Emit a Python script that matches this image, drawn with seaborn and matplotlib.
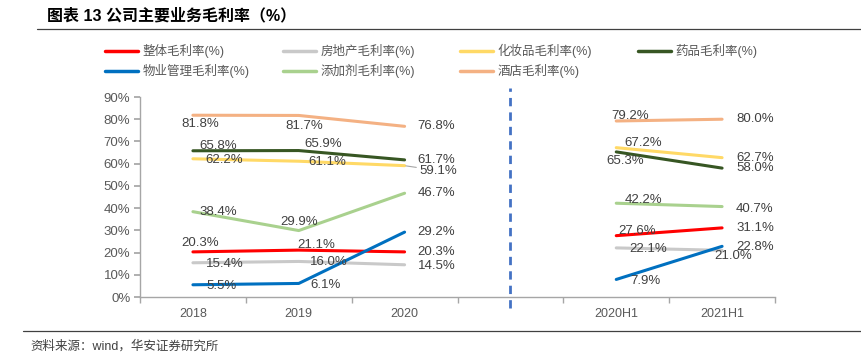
"""
公司主要业务毛利率（%）折线图 — 复刻。
"""
import numpy as np
import pandas as pd
import matplotlib
matplotlib.use('Agg')
import matplotlib.pyplot as plt
import seaborn as sns
from matplotlib.lines import Line2D

# ---- 数据 ----
categories = ['2018', '2019', '2020', '', '2020H1', '2021H1']
annual_idx = [0, 1, 2]
half_idx = [4, 5]

series_names = ['整体毛利率(%)', '房地产毛利率(%)', '化妆品毛利率(%)', '药品毛利率(%)',
                '物业管理毛利率(%)', '添加剂毛利率(%)', '酒店毛利率(%)']
# 2018, 2019, 2020 | 2020H1, 2021H1
overall = [20.3, 21.1, 20.3, 27.6, 31.1]
real_estate = [15.4, 16.0, 14.5, 22.1, 21.0]
cosmetics = [62.2, 61.1, 59.1, 67.2, 62.7]
pharma = [65.8, 65.9, 61.7, 65.3, 58.0]
property_mgmt = [5.5, 6.1, 29.2, 7.9, 22.8]
additive = [38.4, 29.9, 46.7, 42.2, 40.7]
hotel = [81.8, 81.7, 76.8, 79.2, 80.0]
series_values = [overall, real_estate, cosmetics, pharma, property_mgmt, additive, hotel]

colors = ['#FF0000', '#C9C9C9', '#FFD966', '#375623', '#0070C0', '#A9D18E', '#F4B183']

# 标签偏移（像素）：每个点 (dx, dy, ha)
label_offsets = [
    [(7, 9, 'center'), (17, 5, 'center'), (13, 0, 'left'), (21, 5, 'center'), (14, 0, 'left')],
    [(32, -1, 'center'), (30, -1, 'center'), (13, -1, 'left'), (32, -1, 'center'), (11, -6, 'center')],
    [(31, -1, 'center'), (29, -1, 'center'), (15, -5, 'left'), (27, 5, 'center'), (14, 0, 'left')],
    [(25, 5, 'center'), (24, 7, 'center'), (13, 0, 'left'), (9, -9, 'center'), (14, 0, 'left')],
    [(29, -1, 'center'), (27, -2, 'center'), (13, 0, 'left'), (29, -2, 'center'), (14, -1, 'left')],
    [(25, 0, 'center'), (0, 9, 'center'), (13, 0, 'left'), (27, 3, 'center'), (14, -2, 'left')],
    [(7, -9, 'center'), (5, -11, 'center'), (13, 0, 'left'), (14, 5, 'center'), (14, 0, 'left')],
]

sns.set_theme(style='white')
plt.rcParams['font.family'] = ['Liberation Sans', 'Noto Sans CJK SC']
plt.rcParams['axes.unicode_minus'] = False

TEXT = '#404040'
AXIS = '#A6A6A6'

rows = []
xs = annual_idx + half_idx
for name, vals in zip(series_names, series_values):
    for k, (x, v) in enumerate(zip(xs, vals)):
        rows.append({'series': name, 'x': x, 'value': v,
                     'segment': 'annual' if k < 3 else 'half'})
df = pd.DataFrame(rows)

fig = plt.figure(figsize=(8.61, 3.64), dpi=100)
ax = fig.add_axes([140 / 861, 67 / 364, 635 / 861, 200 / 364])

sns.lineplot(data=df, x='x', y='value', hue='series', units='segment',
             estimator=None, palette=dict(zip(series_names, colors)),
             hue_order=series_names, linewidth=2.2, legend=False, ax=ax)

# 数据标签
for name, vals, offs in zip(series_names, series_values, label_offsets):
    for x, v, (dx, dy, ha) in zip(xs, vals, offs):
        kw = {}
        if name == '化妆品毛利率(%)' and x == 2:
            kw['arrowprops'] = dict(arrowstyle='-', color='#A6A6A6', lw=0.8,
                                    shrinkA=0, shrinkB=1)
        ax.annotate(f'{v:.1f}%', xy=(x, v), xytext=(dx, dy), textcoords='offset pixels',
                    ha=ha, va='center', fontsize=9.5, color=TEXT, **kw)

# 分隔虚线
ax.axvline(3, ymin=-0.055, ymax=1.045, color='#4472C4', lw=2, ls=(0, (3, 2.2)), clip_on=False)

ax.set_xlim(-0.5, 5.5)
ax.set_ylim(0, 90)
ax.set_yticks(np.arange(0, 91, 10))
ax.set_yticklabels([f'{t}%' for t in range(0, 91, 10)])
ax.set_xticks(range(len(categories)))
ax.set_xticklabels(categories)
ax.set_xticks(np.arange(-0.5, 5.6, 1), minor=True)
ax.tick_params(axis='x', which='major', length=0, pad=8, labelsize=9, labelcolor='#595959')
ax.tick_params(axis='x', which='minor', length=4, color=AXIS, direction='out', bottom=True)
ax.tick_params(axis='y', length=4, color=AXIS, direction='out', left=True,
               labelsize=9.5, labelcolor='#595959', pad=3)
ax.set_xlabel('')
ax.set_ylabel('')
for s in ['top', 'right']:
    ax.spines[s].set_visible(False)
for s in ['left', 'bottom']:
    ax.spines[s].set_color(AXIS)
    ax.spines[s].set_linewidth(1)

# 图例：四列等宽
handles = [Line2D([0], [0], color=c, lw=2.5) for c in colors]
columns = [[0, 4], [1, 5], [2, 6], [3]]
col_x = [95, 273, 450, 628]
for cx, idx in zip(col_x, columns):
    leg = fig.legend([handles[i] for i in idx], [series_names[i] for i in idx],
                     ncol=1, loc='upper left', bbox_to_anchor=(cx / 861, 1 - 34 / 364),
                     frameon=False, fontsize=9, handlelength=2.6, handletextpad=0.4,
                     labelspacing=0.5, borderpad=0.3)
    for t in leg.get_texts():
        t.set_color('#595959')

# 标题与来源
fig.text(47 / 861, 1 - 16 / 364, '图表 13 公司主要业务毛利率（%）', fontsize=11.5,
         fontweight='bold', color='#000000', va='center', ha='left')
fig.add_artist(Line2D([37 / 861, 1], [1 - 29 / 364] * 2, color='#404040', lw=0.9))
fig.add_artist(Line2D([23 / 861, 1], [1 - 331 / 364] * 2, color='#404040', lw=0.9))
fig.text(30 / 861, 1 - 346 / 364, '资料来源：wind，华安证券研究所', fontsize=9,
         color='#404040', va='center', ha='left')

fig.savefig('out.png', dpi=100)
